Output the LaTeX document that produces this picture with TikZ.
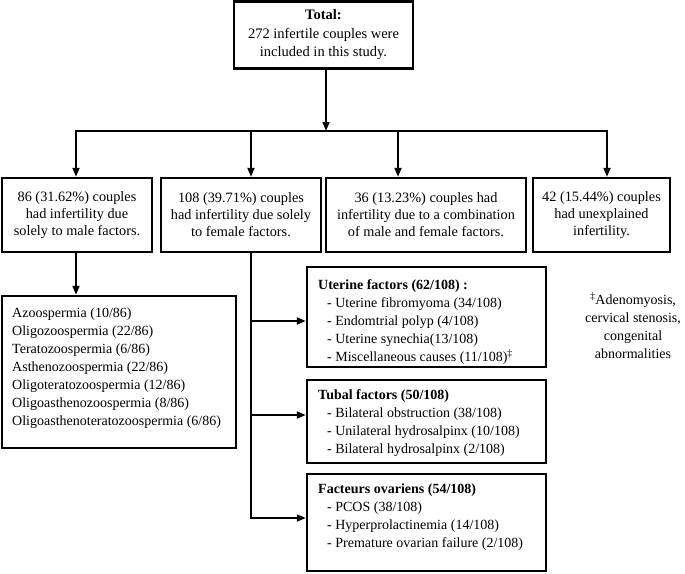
\documentclass[tikz,border=0pt]{standalone}
\usepackage{fontspec}
\setmainfont{Liberation Serif}
\usetikzlibrary{arrows.meta}
\tikzset{
  box/.style={draw, line width=2.4pt, align=center, inner sep=0pt, font=\fontsize{14}{18}\selectfont},
  txt/.style={align=left, inner sep=0pt, font=\fontsize{14}{18}\selectfont},
  conn/.style={line width=1.9pt},
  bar/.style={line width=1.9pt, line cap=rect},
  arr/.style={line width=1.9pt, -{Triangle[length=9pt,width=7pt]}},
}
\newcommand{\ind}{\hspace*{9pt}}
\begin{document}
\begin{tikzpicture}[x=1pt,y=-1pt]
\useasboundingbox (0,0) rectangle (685,573);
% top
\node[box, minimum width=179, minimum height=67, font=\fontsize{14.5}{18.5}\selectfont] (total) at (323.5,35) {\textbf{Total:}\\272 infertile couples were\\included in this study.};
% row 2
\node[box, minimum width=150, minimum height=74, font=\fontsize{14.3}{17}\selectfont] (male) at (77,215) {86 (31.62\%) couples\\had infertility due\\solely to male factors.};
\node[box, minimum width=160, minimum height=74, font=\fontsize{14.3}{17}\selectfont] (female) at (241,215) {108 (39.71\%) couples\\had infertility due solely\\to female factors.};
\node[box, minimum width=200, minimum height=74, font=\fontsize{14.3}{17}\selectfont] (comb) at (426,215) {36 (13.23\%) couples had\\infertility due to a combination\\of male and female factors.};
\node[box, minimum width=137, minimum height=74, font=\fontsize{14.3}{17}\selectfont] (unexp) at (601.5,215) {42 (15.44\%) couples\\had unexplained\\infertility.};
% male list
\node[box, minimum width=234, minimum height=152] (mlist) at (119,372) {};
\node[txt, anchor=west] (mlisttxt) at (12,368) {Azoospermia (10/86)\\Oligozoospermia (22/86)\\Teratozoospermia (6/86)\\Asthenozoospermia (22/86)\\Oligoteratozoospermia (12/86)\\Oligoasthenozoospermia (8/86)\\Oligoasthenoteratozoospermia (6/86)};
% female sub boxes
\node[box, minimum width=239, minimum height=100] (ut) at (426.5,317) {};
\node[txt, anchor=west] (uttxt) at (318,322) {\textbf{Uterine factors (62/108) :}\\\ind- Uterine fibromyoma (34/108)\\\ind- Endomtrial polyp (4/108)\\\ind- Uterine synechia(13/108)\\\ind- Miscellaneous causes (11/108)\textsuperscript{\ddag}};
\node[box, minimum width=239, minimum height=83] (tub) at (426.5,421.5) {};
\node[txt, anchor=west] (tubtxt) at (318,423) {\textbf{Tubal factors (50/108)}\\\ind- Bilateral obstruction (38/108)\\\ind- Unilateral hydrosalpinx (10/108)\\\ind- Bilateral hydrosalpinx (2/108)};
\node[box, minimum width=239, minimum height=97] (ov) at (426.5,522.5) {};
\node[txt, anchor=west] (ovtxt) at (318,517) {\textbf{Facteurs ovariens (54/108)}\\\ind- PCOS (38/108)\\\ind- Hyperprolactinemia (14/108)\\\ind- Premature ovarian failure (2/108)};
% footnote
\node[txt, align=center] (note) at (633,326) {\textsuperscript{\ddag}Adenomyosis,\\cervical stenosis,\\congenital\\abnormalities};
% connectors
\coordinate (hub) at (326,131);
\coordinate (bl) at (76,131);
\coordinate (bf) at (251,131);
\coordinate (bc) at (398,131);
\coordinate (br) at (607,131);
\draw[arr] (total.south -| hub) -- (hub);
\draw[bar] (bl) -- (br);
\draw[arr] (bl) -- (bl |- male.north);
\draw[arr] (bf) -- (bf |- female.north);
\draw[arr] (bc) -- (bc |- comb.north);
\draw[arr] (br) -- (br |- unexp.north);
\draw[arr] (male.south -| bl) -- (mlist.north -| bl);
\coordinate (ja) at (251,321);
\coordinate (jb) at (251,415);
\coordinate (jc) at (251,518);
\draw[bar] (female.south -| bf) -- (jc);
\draw[arr] (ja) -- (ja -| ut.west);
\draw[arr] (jb) -- (jb -| tub.west);
\draw[arr] (jc) -- (jc -| ov.west);
\end{tikzpicture}
\end{document}
